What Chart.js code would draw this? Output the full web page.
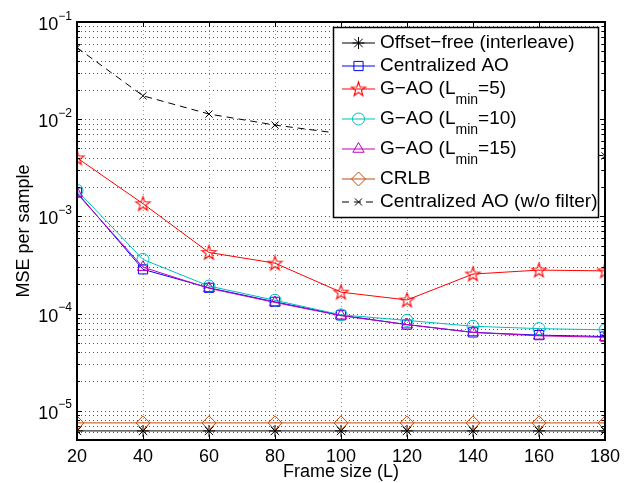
<!DOCTYPE html>
<html>
<head>
<meta charset="utf-8">
<script src="https://cdn.jsdelivr.net/npm/chart.js@4.4.0/dist/chart.umd.min.js"></script>
<style>
  html, body { margin: 0; padding: 0; background: #fff; }
</style>
</head>
<body>
<canvas id="mse" width="629" height="483"></canvas>
<script>
// frame sizes L on the x axis
const frameSizes = [20, 40, 60, 80, 100, 120, 140, 160, 180];

// MSE per sample for each scheme
const offsetFree   = [6.2e-6, 6.2e-6, 6.2e-6, 6.2e-6, 6.2e-6, 6.2e-6, 6.2e-6, 6.2e-6, 6.2e-6];
const centralAO    = [1.76e-3, 2.85e-4, 1.84e-4, 1.32e-4, 9.6e-5, 7.7e-5, 6.4e-5, 6.0e-5, 5.8e-5];
const gao5         = [4.0e-3, 1.35e-3, 4.25e-4, 3.3e-4, 1.66e-4, 1.38e-4, 2.55e-4, 2.8e-4, 2.75e-4];
const gao10        = [1.85e-3, 3.6e-4, 1.92e-4, 1.37e-4, 9.7e-5, 8.5e-5, 7.4e-5, 7.0e-5, 6.8e-5];
const gao15        = [1.72e-3, 3.0e-4, 1.82e-4, 1.30e-4, 9.5e-5, 7.7e-5, 6.4e-5, 5.9e-5, 5.7e-5];
const crlb         = [7.5e-6, 7.5e-6, 7.5e-6, 7.5e-6, 7.5e-6, 7.5e-6, 7.5e-6, 7.5e-6, 7.5e-6];
const centralNoFlt = [0.0545, 0.0174, 0.0113, 0.0087, 0.0071, 0.0060, 0.0053, 0.0047, 0.0042];

// axis range and decade labels
const yMin = 5e-6, yMax = 1e-1;
const decades = [-5, -4, -3, -2, -1];

const FONT = '"Liberation Sans", Arial, Helvetica, sans-serif';
Chart.defaults.font.family = FONT;
Chart.defaults.color = '#000';

// outlined five-point star, like matlab's 'p' marker
function pentagram(color, r) {
  const c = document.createElement('canvas');
  const s = Math.ceil(2 * r + 4);
  c.width = c.height = s;
  const g = c.getContext('2d');
  g.strokeStyle = color;
  g.lineWidth = 1.1;
  g.beginPath();
  for (let i = 0; i < 10; i++) {
    const rr = i % 2 ? r * 0.4 : r;
    const a = -Math.PI / 2 + i * Math.PI / 5;
    const px = s / 2 + rr * Math.cos(a), py = s / 2 + 0.5 + rr * Math.sin(a);
    if (i) g.lineTo(px, py); else g.moveTo(px, py);
  }
  g.closePath();
  g.stroke();
  return c;
}

function series(label, values, color, pointStyle, radius, dash) {
  return {
    label,
    data: frameSizes.map((x, i) => ({ x, y: values[i] })),
    borderColor: color,
    backgroundColor: 'transparent',
    pointBorderColor: color,
    pointBackgroundColor: 'transparent',
    borderWidth: 1,
    pointBorderWidth: 1,
    borderDash: dash || [],
    pointStyle,
    pointRadius: radius,
    tension: 0,
  };
}

const datasets = [
  series('Offset−free (interleave)', offsetFree, '#000000', 'star', 6),
  series('Centralized AO', centralAO, '#0000FF', 'rect', 6.5),
  series('G−AO (L_{min}=5)', gao5, '#FF0000', pentagram('#FF0000', 7.5), 7),
  series('G−AO (L_{min}=10)', gao10, '#00BFBF', 'circle', 6),
  series('G−AO (L_{min}=15)', gao15, '#BF00BF', 'triangle', 6.5),
  series('CRLB', crlb, '#C04A0A', 'rectRot', 7),
  series('Centralized AO (w/o filter)', centralNoFlt, '#000000', 'crossRot', 5, [7, 5]),
];
// later series sit on top of earlier ones
datasets.forEach((d, i) => { d.order = datasets.length - i; });

function line(ctx, x1, y1, x2, y2) {
  ctx.beginPath(); ctx.moveTo(x1, y1); ctx.lineTo(x2, y2); ctx.stroke();
}

// matlab-style axes: dotted grid, boxed frame, inward ticks, 10^n labels
const frame = {
  id: 'frame',
  beforeDatasetsDraw(chart) {
    const { ctx, chartArea: a, scales: { x, y } } = chart;
    ctx.save();
    ctx.lineWidth = 1;
    ctx.setLineDash([1, 3]);
    ctx.strokeStyle = '#9a9a9a';
    frameSizes.forEach(v => {
      const px = Math.round(x.getPixelForValue(v)) + 0.5;
      line(ctx, px, a.top, px, a.bottom);
    });
    ctx.strokeStyle = '#555';
    for (let n = -6; n <= -1; n++) {
      for (let k = 1; k <= 9; k++) {
        const v = k * Math.pow(10, n);
        if (v < yMin || v > yMax) continue;
        const py = Math.round(y.getPixelForValue(v)) + 0.5;
        line(ctx, a.left, py, a.right, py);
      }
    }
    ctx.restore();
  },
  afterDatasetsDraw(chart) {
    const { ctx, chartArea: a, scales: { x, y } } = chart;
    ctx.save();
    ctx.setLineDash([]);
    ctx.strokeStyle = '#000';
    ctx.lineWidth = 1;
    frameSizes.forEach(v => {
      const px = Math.round(x.getPixelForValue(v)) + 0.5;
      line(ctx, px, a.bottom, px, a.bottom - 5);
      line(ctx, px, a.top, px, a.top + 5);
    });
    for (let n = -6; n <= -1; n++) {
      for (let k = 1; k <= 9; k++) {
        const v = k * Math.pow(10, n);
        if (v < yMin || v > yMax) continue;
        const py = Math.round(y.getPixelForValue(v)) + 0.5;
        const len = k === 1 ? 5 : 3;
        line(ctx, a.left, py, a.left + len, py);
        line(ctx, a.right, py, a.right - len, py);
      }
    }
    ctx.lineWidth = 2;
    ctx.strokeRect(Math.round(a.left), Math.round(a.top), Math.round(a.right - a.left), Math.round(a.bottom - a.top));

    // decade labels with superscript exponents
    ctx.fillStyle = '#000';
    ctx.textBaseline = 'alphabetic';
    ctx.textAlign = 'left';
    decades.forEach(n => {
      const gy = y.getPixelForValue(Math.pow(10, n));
      const exp = '−' + Math.abs(n);
      ctx.font = '12px ' + FONT;
      const we = ctx.measureText(exp).width;
      ctx.font = '18px ' + FONT;
      const wb = ctx.measureText('10').width;
      const right = a.left - 5;
      ctx.fillText('10', right - we - wb, gy + 8);
      ctx.font = '12px ' + FONT;
      ctx.fillText(exp, right - we, gy - 2.5);
    });
    ctx.restore();
    drawLegend(chart);
  }
};

function drawLabel(ctx, text, x, y) {
  const parts = text.split(/_\{([^}]*)\}/);
  let cx = x;
  parts.forEach((p, i) => {
    if (!p) return;
    const sub = i % 2 === 1;
    ctx.font = (sub ? '14px ' : '19px ') + FONT;
    ctx.fillText(p, cx, sub ? y + 11 : y);
    cx += ctx.measureText(p).width;
  });
}

function drawLegend(chart) {
  const { ctx, chartArea: a } = chart;
  const left = a.right - 272, right = a.right - 7, top = a.top + 5;
  const rowH = datasets.map(d => (d.label.includes('_{') ? 30 : 23));
  const height = rowH.reduce((s, h) => s + h, 0) + 8;
  ctx.save();
  ctx.fillStyle = '#fff';
  ctx.fillRect(left, top, right - left, height);
  ctx.strokeStyle = '#000';
  ctx.lineWidth = 1.5;
  ctx.strokeRect(left + 0.5, top + 0.5, right - left, height);

  let yy = top + 4.5 + 11.5;
  const helpers = Chart.helpers;
  datasets.forEach((d, i) => {
    const x1 = left + 9, x2 = left + 42, xm = (x1 + x2) / 2;
    ctx.strokeStyle = d.borderColor;
    ctx.lineWidth = 1;
    ctx.setLineDash(d.borderDash);
    line(ctx, x1, yy, x2, yy);
    ctx.setLineDash([]);
    ctx.fillStyle = 'transparent';
    if (helpers && helpers.drawPoint) {
      helpers.drawPoint(ctx, { pointStyle: d.pointStyle, radius: d.pointRadius, rotation: 0, borderWidth: 1 }, xm, yy);
    }
    ctx.fillStyle = '#000';
    ctx.textBaseline = 'middle';
    ctx.textAlign = 'left';
    drawLabel(ctx, d.label, left + 47, yy);
    yy += rowH[i];
  });
  ctx.restore();
}

new Chart(document.getElementById('mse').getContext('2d'), {
  type: 'line',
  data: { datasets },
  options: {
    responsive: false,
    animation: false,
    devicePixelRatio: 1,
    layout: { padding: { top: 22, right: 24, left: 0, bottom: 0 } },
    plugins: { legend: { display: false }, tooltip: { enabled: false } },
    scales: {
      x: {
        type: 'linear',
        min: 20, max: 180,
        ticks: { stepSize: 20, font: { size: 18 }, padding: 6, color: '#000' },
        grid: { display: false, drawTicks: false },
        border: { display: false },
        title: { display: true, text: 'Frame size (L)', font: { size: 18 }, padding: { top: 0, bottom: 0 }, color: '#000' },
        afterFit(s) { s.height = 43; }
      },
      y: {
        type: 'logarithmic',
        min: yMin, max: yMax,
        ticks: { display: false },
        grid: { display: false, drawTicks: false },
        border: { display: false },
        title: { display: true, text: 'MSE per sample', font: { size: 18 }, padding: { top: 13, bottom: 0 }, color: '#000' },
        afterFit(s) { s.width = 77; }
      }
    }
  },
  plugins: [frame]
});
</script>
</body>
</html>
